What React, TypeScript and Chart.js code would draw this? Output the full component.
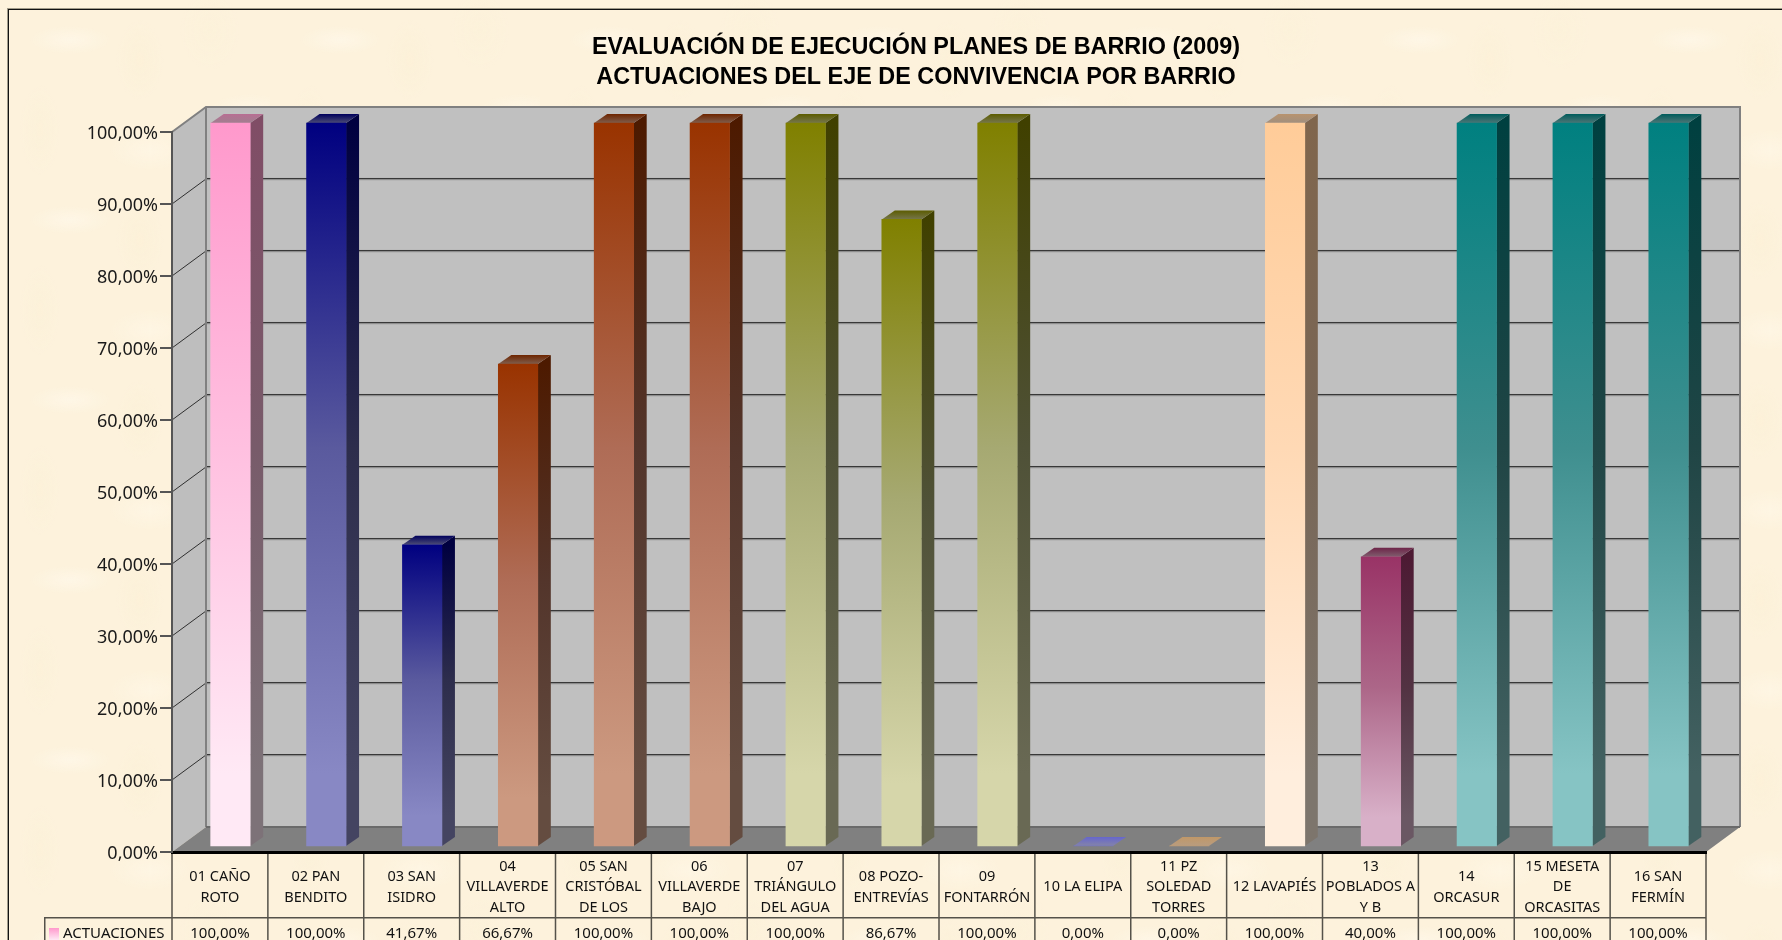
import React, { useEffect, useRef } from "react";
import { Chart, registerables } from "chart.js";

Chart.register(...registerables);

const titleLines = ["EVALUACIÓN DE EJECUCIÓN PLANES DE BARRIO (2009)", "ACTUACIONES DEL EJE DE CONVIVENCIA POR BARRIO"];
const seriesName = "ACTUACIONES";
const categories = [
  ["01 CAÑO", "ROTO"],
  ["02 PAN", "BENDITO"],
  ["03 SAN", "ISIDRO"],
  ["04", "VILLAVERDE", "ALTO"],
  ["05 SAN", "CRISTÓBAL", "DE LOS"],
  ["06", "VILLAVERDE", "BAJO"],
  ["07", "TRIÁNGULO", "DEL AGUA"],
  ["08 POZO-", "ENTREVÍAS"],
  ["09", "FONTARRÓN"],
  ["10 LA ELIPA"],
  ["11 PZ", "SOLEDAD", "TORRES"],
  ["12 LAVAPIÉS"],
  ["13", "POBLADOS A", "Y B"],
  ["14", "ORCASUR"],
  ["15 MESETA", "DE", "ORCASITAS"],
  ["16 SAN", "FERMÍN"],
];
const values = [100, 100, 41.67, 66.67, 100, 100, 100, 86.67, 100, 0, 0, 100, 40, 100, 100, 100];
const topColors = ["#FF99CC", "#000080", "#000080", "#993300", "#993300", "#993300", "#808000", "#808000", "#808000", "#6666CC", "#C09868", "#FFCC99", "#993366", "#008080", "#008080", "#008080"];
const midColors = ["#FFC0E0", "#5A5A9E", "#5A5A9E", "#AF6C56", "#AF6C56", "#AF6C56", "#A6A972", "#A6A972", "#A6A972", "#7070B8", "#BC9A74", "#FFD9B5", "#AC6688", "#3F8F8F", "#3F8F8F", "#3F8F8F"];
const bottomColors = ["#FFE9F5", "#8888C4", "#8888C4", "#CC9980", "#CC9980", "#CC9980", "#D6D6AA", "#D6D6AA", "#D6D6AA", "#8484A8", "#B89C80", "#FFEEDD", "#D8B0C8", "#86C4C4", "#86C4C4", "#86C4C4"];

const FONT = '"Noto Sans", sans-serif';
const wallDx = 34, wallDy = 25;
const barDx = 10.5, barDy = 6;
const sideW = 13, sideH = 9;

const fmt = (v: number) => v.toFixed(2).replace(".", ",") + "%";
function rgb(hex: string) {
  return [1, 3, 5].map((i) => parseInt(hex.slice(i, i + 2), 16));
}
function mul(hex: string, k: number, greyMix = 0, grey = 128) {
  const c = rgb(hex).map((v) => Math.round(v * k * (1 - greyMix) + grey * greyMix));
  return `rgb(${c[0]},${c[1]},${c[2]})`;
}

const wallsPlugin = {
  id: "walls",
  beforeDraw(chart: any) {
    const { ctx, chartArea: a, scales } = chart;
    const y = scales.y;
    const poly = (pts: number[][], fill: string) => {
      ctx.beginPath();
      pts.forEach((p, i) => (i ? ctx.lineTo(p[0], p[1]) : ctx.moveTo(p[0], p[1])));
      ctx.closePath();
      ctx.fillStyle = fill;
      ctx.fill();
    };
    ctx.save();
    // frame
    ctx.fillStyle = "#A09A88";
    ctx.fillRect(7, 8, 1775, 1);
    ctx.fillRect(7, 8, 1, 932);
    ctx.fillStyle = "#111";
    ctx.fillRect(8, 9, 1774, 1);
    ctx.fillRect(8, 9, 1, 931);

    const L = a.left, R = a.right, T = a.top, B = a.bottom;
    poly([[L + wallDx, T - wallDy], [R + wallDx, T - wallDy], [R + wallDx, B - wallDy], [L + wallDx, B - wallDy]], "#C0C0C0");
    poly([[L, T], [L + wallDx, T - wallDy], [L + wallDx, B - wallDy], [L, B]], "#BEBEBE");
    poly([[L, B], [L + wallDx, B - wallDy], [R + wallDx, B - wallDy], [R, B]], "#808080");

    // gridlines on the walls
    y.ticks.forEach((t: any) => {
      if (t.value === 0 || t.value === 100) return;
      const p = y.getPixelForValue(t.value);
      ctx.strokeStyle = "#303030";
      ctx.lineWidth = 1;
      ctx.beginPath();
      ctx.moveTo(L, p);
      ctx.lineTo(L + wallDx, p - wallDy);
      ctx.stroke();
      ctx.fillStyle = "#383838";
      ctx.fillRect(L + wallDx, p - wallDy - 1, R - L, 1.5);
      ctx.fillStyle = "#9A9A9A";
      ctx.fillRect(L + wallDx, p - wallDy + 0.5, R - L, 0.8);
    });
    // wall borders
    ctx.strokeStyle = "#808080";
    ctx.lineWidth = 2;
    ctx.beginPath();
    ctx.moveTo(L, T);
    ctx.lineTo(L + wallDx, T - wallDy);
    ctx.lineTo(R + wallDx, T - wallDy);
    ctx.lineTo(R + wallDx, B - wallDy);
    ctx.moveTo(L + wallDx, T - wallDy);
    ctx.lineTo(L + wallDx, B - wallDy);
    ctx.stroke();
    ctx.strokeStyle = "#6A6A6A";
    ctx.beginPath();
    ctx.moveTo(L + wallDx, B - wallDy);
    ctx.lineTo(R + wallDx, B - wallDy);
    ctx.stroke();

    // data table
    const band = (R - L) / categories.length;
    const tableB = 917;
    ctx.fillStyle = "#55524A";
    for (let i = 0; i <= categories.length; i++) {
      ctx.fillRect(L + i * band - 0.75, B, 1.5, 940 - B);
    }
    ctx.fillRect(44, tableB, R - 44, 1.5);
    ctx.fillRect(44, tableB, 1.5, 940 - tableB);
    ctx.font = `15px ${FONT}`;
    ctx.textBaseline = "middle";
    ctx.textAlign = "center";
    ctx.fillStyle = "#111";
    values.forEach((v, i) => ctx.fillText(fmt(v), L + (i + 0.5) * band, 933.5));
    ctx.textAlign = "left";
    ctx.fillText(seriesName, 63, 933.5);
    const g = ctx.createLinearGradient(0, 928, 0, 940);
    g.addColorStop(0, topColors[0]);
    g.addColorStop(1, bottomColors[0]);
    ctx.fillStyle = g;
    ctx.fillRect(49, 928, 10, 12);
    ctx.restore();
  },
  beforeDatasetsDraw(chart: any) {
    const { ctx } = chart;
    const meta = chart.getDatasetMeta(0);
    ctx.save();
    ctx.translate(barDx, -barDy);
    meta.data.forEach((el: any, i: number) => {
      const x0 = el.x - el.width / 2, x1 = el.x + el.width / 2;
      const yt = el.y, yb = el.base;
      const top = topColors[i], mid = midColors[i], bot = bottomColors[i];
      if (yb - yt > 0.5) {
        const gs = ctx.createLinearGradient(0, yt, 0, yb);
        gs.addColorStop(0, mul(top, 0.5));
        gs.addColorStop(0.45, mul(mid, 0.48, 0.05, 70));
        gs.addColorStop(0.9, mul(bot, 0.5, 0.05, 70));
        gs.addColorStop(1, mul(bot, 0.5, 0.05, 70));
        ctx.fillStyle = gs;
        ctx.beginPath();
        ctx.moveTo(x1, yt);
        ctx.lineTo(x1 + sideW, yt - sideH);
        ctx.lineTo(x1 + sideW, yb - sideH);
        ctx.lineTo(x1, yb);
        ctx.closePath();
        ctx.fill();
      }
      const zero = yb - yt <= 0.5;
      const gt = ctx.createLinearGradient(0, yt - sideH, 0, yt);
      gt.addColorStop(0, zero ? top : mul(top, 0.72));
      gt.addColorStop(1, zero ? bot : mul(top, 0.72, 0.55, 140));
      ctx.fillStyle = gt;
      ctx.beginPath();
      ctx.moveTo(x0, yt);
      ctx.lineTo(x0 + sideW, yt - sideH);
      ctx.lineTo(x1 + sideW, yt - sideH);
      ctx.lineTo(x1, yt);
      ctx.closePath();
      ctx.fill();
    });
    ctx.restore();
  },
  beforeDatasetDraw(chart: any) {
    chart.ctx.save();
    chart.ctx.translate(barDx, -barDy);
  },
  afterDatasetDraw(chart: any) {
    chart.ctx.restore();
  },
};

const parchment = {
  position: "fixed" as const,
  left: 0,
  top: 0,
  width: 1782,
  height: 940,
  overflow: "hidden",
  backgroundColor: "#FDF2DC",
  backgroundImage: [
    "radial-gradient(ellipse 40px 14px at 70px 40px, rgba(255,250,238,.55), transparent)",
    "radial-gradient(ellipse 24px 40px at 140px 60px, rgba(250,238,208,.3), transparent)",
    "radial-gradient(ellipse 30px 40px at 210px 30px, rgba(251,240,212,.25), transparent)",
    "radial-gradient(ellipse 40px 16px at 250px 110px, rgba(255,249,235,.6), transparent)",
    "radial-gradient(ellipse 20px 45px at 40px 130px, rgba(250,239,210,.3), transparent)",
    "radial-gradient(ellipse 40px 20px at 150px 150px, rgba(255,248,233,.55), transparent)",
  ].join(","),
  backgroundSize: "270px 180px",
};

export default function App() {
  const ref = useRef<HTMLCanvasElement>(null);
  useEffect(() => {
    const chart = new Chart(ref.current!, {
      type: "bar",
      plugins: [wallsPlugin],
      data: {
        labels: categories,
        datasets: [
          {
            label: seriesName,
            data: values,
            yAxisID: "yb",
            barThickness: 39.5,
            borderWidth: 0,
            clip: false,
            backgroundColor: (c: any) => {
              const s = c.chart.scales.yb;
              if (!s || c.raw === undefined) return topColors[c.dataIndex];
              const y0 = s.getPixelForValue(c.raw), y1 = s.getPixelForValue(0);
              if (!isFinite(y0) || !isFinite(y1)) return topColors[c.dataIndex];
              const g = c.chart.ctx.createLinearGradient(0, y0, 0, Math.max(y1, y0 + 1));
              g.addColorStop(0, topColors[c.dataIndex]);
              g.addColorStop(0.45, midColors[c.dataIndex]);
              g.addColorStop(0.9, bottomColors[c.dataIndex]);
              g.addColorStop(1, bottomColors[c.dataIndex]);
              return g;
            },
          } as any,
        ],
      },
      options: {
        responsive: false,
        animation: false,
        layout: { padding: { left: 50, right: 0, top: 0, bottom: 0 } },
        plugins: {
          legend: { display: false },
          tooltip: { enabled: false },
          title: {
            display: true,
            text: titleLines,
            color: "#000",
            font: { family: '"Liberation Sans", sans-serif', size: 23.4, weight: "bold", lineHeight: 1.26 },
            padding: { top: 33, bottom: 40 },
          },
        },
        scales: {
          x: {
            offset: true,
            afterFit: (s: any) => { s.height = 88; },
            grid: { display: false },
            border: { color: "#000", width: 3 },
            ticks: {
              autoSkip: false,
              maxRotation: 0,
              minRotation: 0,
              crossAlign: "center",
              padding: 6.5,
              color: "#111",
              font: { family: FONT, size: 14.5, lineHeight: 1.42 },
            },
          },
          y: {
            min: 0,
            max: 100,
            afterFit: (s: any) => { s.width = 122; },
            border: { color: "#555", width: 2 },
            grid: { drawOnChartArea: false, drawTicks: true, tickLength: 12, color: "#555", lineWidth: 2 },
            ticks: {
              stepSize: 10,
              padding: 2,
              labelOffset: 1.5,
              color: "#1a1a1a",
              font: { family: FONT, size: 18 },
              callback: (v: any) => fmt(Number(v)),
            },
          },
          yb: {
            position: "right",
            min: 0,
            max: 99.6,
            afterFit: (s: any) => { s.width = 76; },
            grid: { display: false },
            border: { display: false },
            ticks: { display: false },
          },
        },
      } as any,
    });
    return () => chart.destroy();
  }, []);
  return (
    <div style={parchment}>
      <canvas ref={ref} width={1782} height={940} style={{ display: "block" }} />
    </div>
  );
}
